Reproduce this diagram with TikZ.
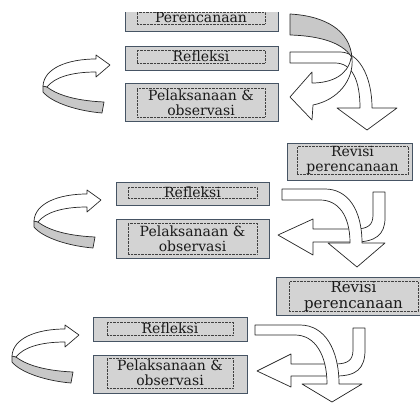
\documentclass[tikz,border=0pt]{standalone}
\usepackage{fontspec}
\setmainfont{DejaVu Serif}
\definecolor{boxfill}{RGB}{211,211,211}
\definecolor{boxline}{RGB}{70,84,100}
\definecolor{bandgray}{RGB}{200,200,200}

\begin{document}
\begin{tikzpicture}[
    x=1pt, y=-1pt,
    outerbox/.style={rectangle, draw=boxline, line width=0.8pt, fill=boxfill, inner sep=0pt},
    innerbox/.style={rectangle, draw=black!75, densely dotted, inner sep=0pt, align=center, text=black!90, font=\fontsize{14}{15}\selectfont},
    band/.style={draw=black!85, line width=0.7pt, fill=white, line join=round},
    backband/.style={band, fill=bandgray},
    curl/.pic={
        \draw[backband] (-63,22) .. controls (-50,32) and (-28,36) .. (-6,37) -- (-8,48)
            .. controls (-32,46) and (-58,38) .. (-67,27) -- (-67,21) -- cycle;
        \draw[band] (-14,7) -- (-14,12) -- (0,0) -- (-14,-10) -- (-14,-6)
            .. controls (-42,-6) and (-66,3) .. (-67,21) -- (-63,22)
            .. controls (-56,13) and (-40,7) .. (-14,7) -- cycle;
    }
]
\useasboundingbox (0,0) rectangle (420,403);
\clip (0,12.3) rectangle (420,403);

% first cycle
\node[outerbox, minimum width=153pt, minimum height=27pt] (plan1) at (201.5,17.5) {};
\node[innerbox, minimum width=128pt, minimum height=12pt] (plan1t) at (201,18) {Perencanaan};
\node[outerbox, minimum width=153pt, minimum height=24pt] (refl1) at (201.5,58) {};
\node[innerbox, minimum width=128pt, minimum height=13pt] (refl1t) at (201,56.5) {Refleksi};
\node[outerbox, minimum width=153pt, minimum height=38pt] (exec1) at (201.5,102) {};
\node[innerbox, minimum width=128pt, minimum height=29pt] (exec1t) at (201,102.5) {Pelaksanaan \&\\observasi};

\pic at (110,65) {curl};
\draw[band] (290,52) -- (340,52) .. controls (358,52) and (372,75) .. (372,108) -- (397,108)
    -- (367,130) -- (337,108) -- (360,108) .. controls (360,80) and (352,63) .. (335,63) -- (290,63) -- cycle;
\draw[backband] (290,14) .. controls (325,16) and (350,30) .. (352,58)
    .. controls (345,45) and (325,36) .. (290,35) -- cycle;
\draw[band] (352,58) .. controls (354,80) and (338,100) .. (313,105) -- (312,120) -- (290,97)
    -- (312,72) -- (312,83) .. controls (332,83) and (348,75) .. (351,58) -- cycle;

% second cycle
\node[outerbox, minimum width=125pt, minimum height=37pt] (rev2) at (349.5,161.5) {};
\node[innerbox, minimum width=111pt, minimum height=27pt] (rev2t) at (352.5,160.5) {Revisi\\perencanaan};
\node[outerbox, minimum width=153pt, minimum height=23pt] (refl2) at (192.5,193.5) {};
\node[innerbox, minimum width=129pt, minimum height=11pt] (refl2t) at (192.5,192.5) {Refleksi};
\node[outerbox, minimum width=153pt, minimum height=39pt] (exec2) at (192.5,238.5) {};
\node[innerbox, minimum width=129pt, minimum height=31pt] (exec2t) at (192.5,238.5) {Pelaksanaan \&\\observasi};

\pic at (101,200) {curl};
\draw[band] (385,192) -- (385,218) .. controls (385,235) and (375,242) .. (355,242) -- (313,242)
    -- (313,255) -- (278,235) -- (313,219) -- (313,229) -- (355,229)
    .. controls (368,229) and (373,225) .. (373,215) -- (373,192) -- cycle;
\draw[band] (282,189) -- (325,189) .. controls (348,189) and (362,210) .. (362,243) -- (385,243)
    -- (357,267) -- (328,243) -- (350,243) .. controls (350,215) and (338,200) .. (320,200) -- (282,200) -- cycle;

% third cycle
\node[outerbox, minimum width=148pt, minimum height=38pt] (rev3) at (350,296) {};
\node[innerbox, minimum width=129pt, minimum height=27pt, font=\fontsize{15}{16}\selectfont] (rev3t) at (353.5,296.5) {Revisi\\perencanaan};
\node[outerbox, minimum width=154pt, minimum height=24pt] (refl3) at (170,329) {};
\node[innerbox, minimum width=126pt, minimum height=13pt] (refl3t) at (170,328.5) {Refleksi};
\node[outerbox, minimum width=154pt, minimum height=38pt] (exec3) at (170,374) {};
\node[innerbox, minimum width=126pt, minimum height=30pt] (exec3t) at (170,373) {Pelaksanaan \&\\observasi};

\pic at (79,335) {curl};
\draw[band] (365,328) -- (365,350) .. controls (365,369) and (356,376) .. (336,376) -- (291,376)
    -- (291,387) -- (257,371) -- (291,354) -- (291,364) -- (335,364)
    .. controls (348,364) and (353,360) .. (353,350) -- (353,328) -- cycle;
\draw[band] (255,325) -- (300,325) .. controls (325,325) and (339,350) .. (339,384) -- (362,384)
    -- (332,402) -- (302,384) -- (327,384) .. controls (327,355) and (315,335) .. (295,335) -- (255,335) -- cycle;
\end{tikzpicture}
\end{document}
